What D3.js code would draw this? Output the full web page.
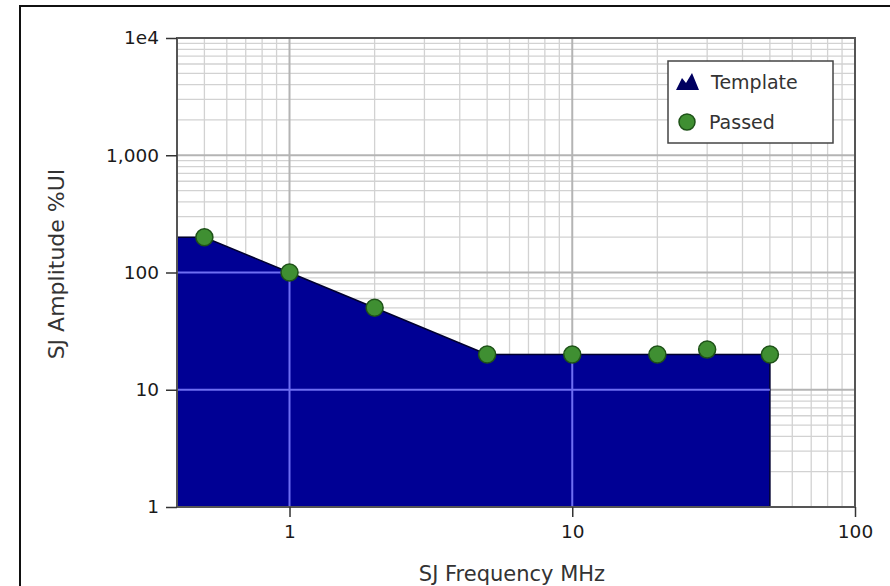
<!DOCTYPE html>
<html>
<head>
<meta charset="utf-8">
<script src="https://cdn.jsdelivr.net/npm/d3@7"></script>
<style>
  body { margin: 0; background: #fff; }
  svg { display: block; font-family: "DejaVu Sans", sans-serif; }
</style>
</head>
<body>
<svg width="890" height="586"></svg>
<script>
// SJ tolerance plot: template mask vs. passed measurement points (log-log)

const templateFreq = [0.4, 0.5, 1, 2, 5, 50, 50];
const templateAmp = [200, 200, 100, 50, 20, 20, 1];

const passedFreq = [0.5, 1, 2, 5, 10, 20, 30, 50];
const passedAmp = [200, 100, 50, 20, 20, 20, 22, 20];

const xTickValues = [1, 10, 100];
const xTickLabels = ["1", "10", "100"];
const yTickValues = [1, 10, 100, 1000, 10000];
const yTickLabels = ["1", "10", "100", "1,000", "1e4"];

const margin = { left: 177, top: 38, right: 855, bottom: 507 };

const svg = d3.select("svg");

// outer frame
svg.append("rect")
  .attr("x", 20).attr("y", 6)
  .attr("width", 900).attr("height", 600)
  .attr("fill", "none")
  .attr("stroke", "#111")
  .attr("stroke-width", 2);

const x = d3.scaleLog().domain([0.4, 100]).range([margin.left, margin.right]);
const y = d3.scaleLog().domain([1, 10000]).range([margin.bottom, margin.top]);

const isMajor = (v) => Math.abs(Math.log10(v) - Math.round(Math.log10(v))) < 1e-9;

// minor grid
const grid = svg.append("g");
grid.selectAll(".vx")
  .data(x.ticks().filter((v) => !isMajor(v)))
  .enter().append("line")
  .attr("x1", (d) => x(d)).attr("x2", (d) => x(d))
  .attr("y1", margin.top).attr("y2", margin.bottom)
  .attr("stroke", "#d2d2d2").attr("stroke-width", 1.3);
grid.selectAll(".hy")
  .data(y.ticks().filter((v) => !isMajor(v)))
  .enter().append("line")
  .attr("y1", (d) => y(d)).attr("y2", (d) => y(d))
  .attr("x1", margin.left).attr("x2", margin.right)
  .attr("stroke", "#d2d2d2").attr("stroke-width", 1.3);

// major grid
const drawMajor = (g, color, width) => {
  g.selectAll(".mx")
    .data(xTickValues)
    .enter().append("line")
    .attr("x1", (d) => x(d)).attr("x2", (d) => x(d))
    .attr("y1", margin.top).attr("y2", margin.bottom)
    .attr("stroke", color).attr("stroke-width", width);
  g.selectAll(".my")
    .data(yTickValues)
    .enter().append("line")
    .attr("y1", (d) => y(d)).attr("y2", (d) => y(d))
    .attr("x1", margin.left).attr("x2", margin.right)
    .attr("stroke", color).attr("stroke-width", width);
};
drawMajor(svg.append("g"), "#b4b4b4", 2);

// template area
const templateData = templateFreq.map((f, i) => [f, templateAmp[i]]);
const area = d3.area()
  .x((d) => x(d[0]))
  .y0(y(1))
  .y1((d) => y(d[1]));

svg.append("clipPath").attr("id", "tplclip")
  .append("path").attr("d", area(templateData));

svg.append("path")
  .attr("d", area(templateData))
  .attr("fill", "#000094")
  .attr("stroke", "#000030")
  .attr("stroke-width", 1.5);

drawMajor(svg.append("g").attr("clip-path", "url(#tplclip)"), "#6e6ef2", 2);

// plot border
svg.append("rect")
  .attr("x", margin.left).attr("y", margin.top)
  .attr("width", margin.right - margin.left)
  .attr("height", margin.bottom - margin.top)
  .attr("fill", "none")
  .attr("stroke", "#555")
  .attr("stroke-width", 2);

// passed points
svg.selectAll(".pt")
  .data(passedFreq.map((f, i) => [f, passedAmp[i]]))
  .enter().append("circle")
  .attr("cx", (d) => x(d[0]))
  .attr("cy", (d) => y(d[1]))
  .attr("r", 8.5)
  .attr("fill", "#3f8f32")
  .attr("stroke", "#1e5218")
  .attr("stroke-width", 1.5);

// axes
const xAxis = d3.axisBottom(x)
  .tickValues(xTickValues)
  .tickFormat((d, i) => xTickLabels[i])
  .tickSize(10).tickPadding(8);
const yAxis = d3.axisLeft(y)
  .tickValues(yTickValues)
  .tickFormat((d, i) => yTickLabels[i])
  .tickSize(11).tickPadding(7);

const styleAxis = (g) => {
  g.select(".domain").remove();
  g.selectAll(".tick line").attr("stroke", "#333").attr("stroke-width", 1.5);
  g.selectAll(".tick text")
    .attr("fill", "#1a1a1a")
    .style("font-size", "18.5px")
    .style("font-family", "DejaVu Sans, sans-serif");
};

svg.append("g")
  .attr("transform", "translate(0," + margin.bottom + ")")
  .call(xAxis)
  .call(styleAxis);

svg.append("g")
  .attr("transform", "translate(" + margin.left + ",0)")
  .call(yAxis)
  .call(styleAxis);

// axis titles
svg.append("text")
  .attr("x", 512).attr("y", 581)
  .attr("text-anchor", "middle")
  .attr("fill", "#333")
  .style("font-size", "21px")
  .text("SJ Frequency MHz");

svg.append("text")
  .attr("transform", "translate(64,264) rotate(-90)")
  .attr("text-anchor", "middle")
  .attr("fill", "#333")
  .style("font-size", "22px")
  .text("SJ Amplitude %UI");

// legend
const legend = svg.append("g");
legend.append("rect")
  .attr("x", 668).attr("y", 61)
  .attr("width", 165).attr("height", 82)
  .attr("fill", "#fff")
  .attr("stroke", "#444")
  .attr("stroke-width", 1.5);
legend.append("path")
  .attr("d", "M676,90 L682,78 L686,83 L692,73 L699,90 Z")
  .attr("fill", "#000060");
legend.append("text")
  .attr("x", 711).attr("y", 89)
  .attr("fill", "#333")
  .style("font-size", "19px")
  .text("Template");
legend.append("circle")
  .attr("cx", 687).attr("cy", 122)
  .attr("r", 8)
  .attr("fill", "#3f8f32")
  .attr("stroke", "#1e5218")
  .attr("stroke-width", 1.5);
legend.append("text")
  .attr("x", 709).attr("y", 129)
  .attr("fill", "#333")
  .style("font-size", "19px")
  .text("Passed");
</script>
</body>
</html>
